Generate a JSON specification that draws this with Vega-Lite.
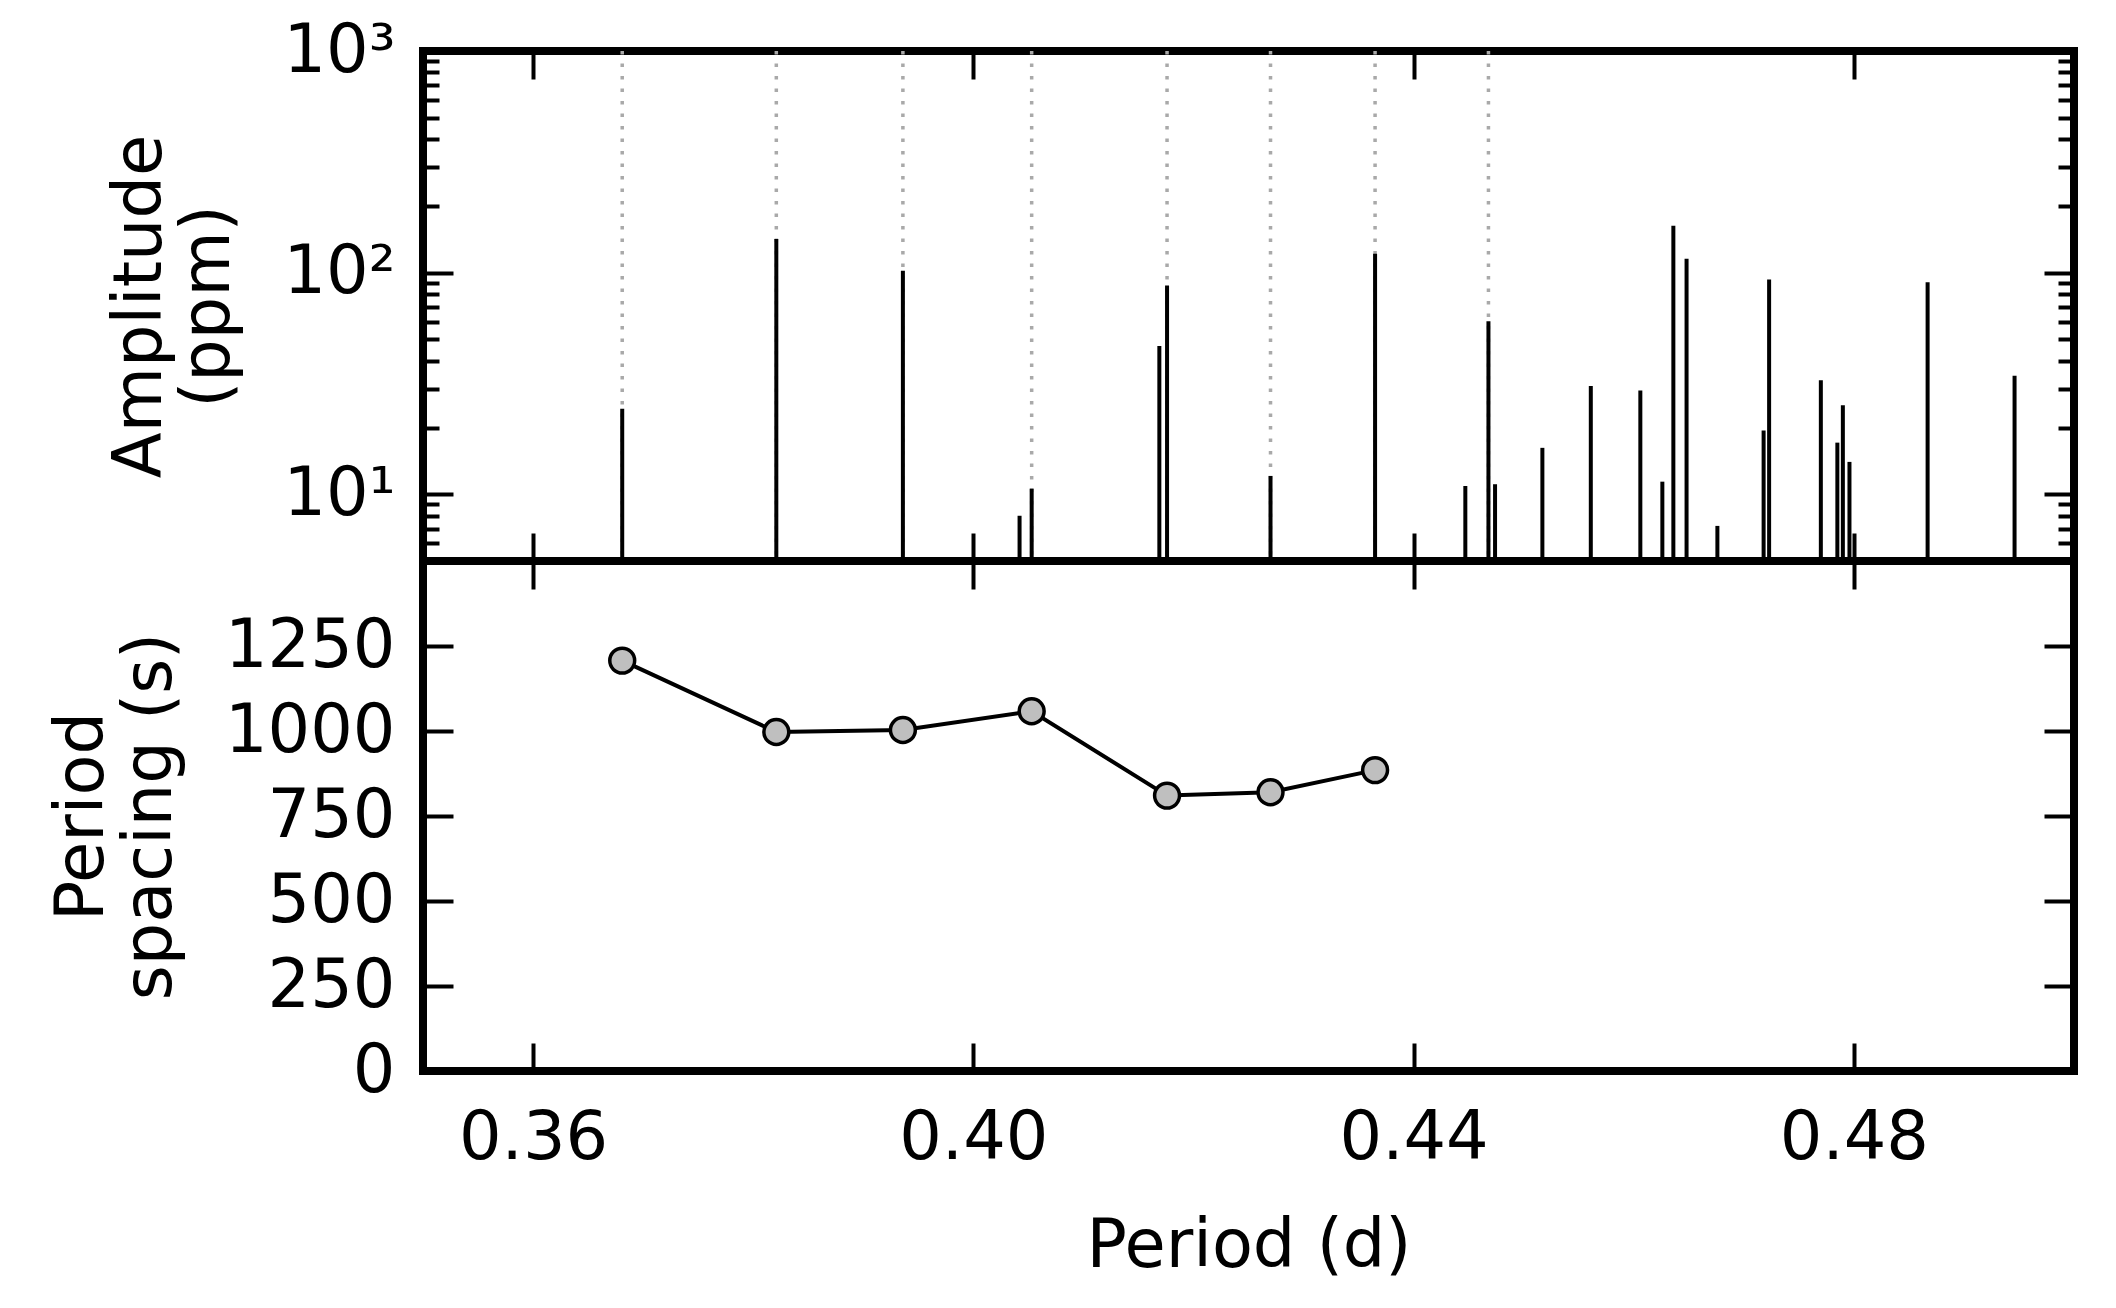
{
  "$schema": "https://vega.github.io/schema/vega-lite/v6.json",
  "background": "white",
  "padding": {"left": 44, "top": 13, "right": 30, "bottom": 20},
  "spacing": 0,
  "bounds": "flush",
  "datasets": {
    "spikes": [
      {"period": 0.3681, "amp": 24.3},
      {"period": 0.3821, "amp": 142},
      {"period": 0.3936, "amp": 102},
      {"period": 0.4042, "amp": 8.0},
      {"period": 0.4053, "amp": 10.6},
      {"period": 0.4169, "amp": 46.7},
      {"period": 0.4176, "amp": 87.5},
      {"period": 0.4270, "amp": 12.1},
      {"period": 0.4365, "amp": 121.6},
      {"period": 0.4447, "amp": 10.9},
      {"period": 0.4468, "amp": 60.3},
      {"period": 0.4474, "amp": 11.1},
      {"period": 0.4517, "amp": 16.2},
      {"period": 0.4561, "amp": 30.8},
      {"period": 0.4606, "amp": 29.4},
      {"period": 0.4626, "amp": 11.4},
      {"period": 0.4636, "amp": 162.6},
      {"period": 0.4648, "amp": 115.6},
      {"period": 0.4676, "amp": 7.2},
      {"period": 0.4718, "amp": 19.4},
      {"period": 0.4723, "amp": 93.1},
      {"period": 0.4770, "amp": 32.7},
      {"period": 0.4785, "amp": 17.1},
      {"period": 0.4790, "amp": 25.2},
      {"period": 0.4796, "amp": 14.0},
      {"period": 0.4867, "amp": 90.4},
      {"period": 0.4946, "amp": 34.3}
    ],
    "modes": [
      {"period": 0.3681},
      {"period": 0.3821},
      {"period": 0.3936},
      {"period": 0.4053},
      {"period": 0.4176},
      {"period": 0.4270},
      {"period": 0.4365},
      {"period": 0.4468}
    ],
    "spacing": [
      {"period": 0.3681, "spacing": 1207},
      {"period": 0.3821, "spacing": 997},
      {"period": 0.3936, "spacing": 1003},
      {"period": 0.4053, "spacing": 1058},
      {"period": 0.4176, "spacing": 810},
      {"period": 0.4270, "spacing": 820},
      {"period": 0.4365, "spacing": 885}
    ]
  },
  "vconcat": [
    {
      "width": 1651,
      "height": 510,
      "layer": [
        {
          "data": {"name": "modes"},
          "mark": {"type": "rule", "color": "#a9a9a9", "strokeWidth": 3.5, "strokeDash": [3.5, 9]},
          "encoding": {
            "x": {"field": "period", "type": "quantitative", "scale": {"domain": [0.35, 0.5], "nice": false, "zero": false}, "axis": null}
          }
        },
        {
          "data": {"name": "spikes"},
          "mark": {"type": "rule", "color": "black", "strokeWidth": 4},
          "encoding": {
            "x": {
              "field": "period", "type": "quantitative",
              "scale": {"domain": [0.35, 0.5], "nice": false, "zero": false},
              "axis": {"orient": "bottom", "values": [0.36, 0.40, 0.44, 0.48], "labels": false, "title": null, "tickSize": -28}
            },
            "y": {
              "field": "amp", "type": "quantitative",
              "scale": {"type": "log", "domain": [5, 1000], "nice": false},
              "axis": {
                "orient": "left",
                "values": [5, 6, 7, 8, 9, 10, 20, 30, 40, 50, 60, 70, 80, 90, 100, 200, 300, 400, 500, 600, 700, 800, 900, 1000],
                "labelExpr": "datum.value == 1000 ? '10³' : datum.value == 100 ? '10²' : datum.value == 10 ? '10¹' : ''",
                "labelOverlap": false,
                "tickSize": {"condition": {"test": "datum.value == 10 || datum.value == 100 || datum.value == 1000", "value": -30}, "value": -16},
                "labelPadding": 58,
                "title": ["Amplitude", "(ppm)"],
                "titlePadding": 40
              }
            },
            "y2": {"datum": 5}
          }
        },
        {
          "data": {"name": "spikes"},
          "mark": {"type": "rule", "opacity": 0},
          "encoding": {
            "x": {
              "field": "period", "type": "quantitative",
              "scale": {"domain": [0.35, 0.5], "nice": false, "zero": false},
              "axis": {"orient": "top", "values": [0.36, 0.40, 0.44, 0.48], "labels": false, "title": null, "tickSize": -28}
            },
            "y": {
              "field": "amp", "type": "quantitative",
              "scale": {"type": "log", "domain": [5, 1000], "nice": false},
              "axis": {
                "orient": "right",
                "values": [5, 6, 7, 8, 9, 10, 20, 30, 40, 50, 60, 70, 80, 90, 100, 200, 300, 400, 500, 600, 700, 800, 900, 1000],
                "labels": false,
                "tickSize": {"condition": {"test": "datum.value == 10 || datum.value == 100 || datum.value == 1000", "value": -30}, "value": -16},
                "title": null
              }
            }
          }
        }
      ],
      "resolve": {"axis": {"x": "independent", "y": "independent"}}
    },
    {
      "width": 1651,
      "height": 510,
      "data": {"name": "spacing"},
      "layer": [
        {
          "mark": {"type": "line", "color": "black", "strokeWidth": 4},
          "encoding": {
            "x": {
              "field": "period", "type": "quantitative",
              "scale": {"domain": [0.35, 0.5], "nice": false, "zero": false},
              "axis": {"orient": "bottom", "values": [0.36, 0.40, 0.44, 0.48], "format": ".2f", "tickSize": -28, "labelPadding": 62, "title": "Period (d)", "titlePadding": 42}
            },
            "y": {
              "field": "spacing", "type": "quantitative",
              "scale": {"domain": [0, 1500], "nice": false, "zero": false},
              "axis": {"orient": "left", "values": [0, 250, 500, 750, 1000, 1250], "format": "d", "labelLimit": 0, "tickSize": -30, "labelPadding": 58, "title": ["Period", "spacing (s)"], "titlePadding": 40}
            }
          }
        },
        {
          "mark": {"type": "point", "shape": "circle", "filled": true, "fill": "#bfbfbf", "stroke": "black", "strokeWidth": 3.5, "size": 620, "opacity": 1},
          "encoding": {
            "x": {
              "field": "period", "type": "quantitative",
              "scale": {"domain": [0.35, 0.5], "nice": false, "zero": false},
              "axis": {"orient": "top", "values": [0.36, 0.40, 0.44, 0.48], "labels": false, "title": null, "tickSize": -28}
            },
            "y": {
              "field": "spacing", "type": "quantitative",
              "scale": {"domain": [0, 1500], "nice": false, "zero": false},
              "axis": {"orient": "right", "values": [0, 250, 500, 750, 1000, 1250], "labels": false, "title": null, "tickSize": -30}
            }
          }
        }
      ],
      "resolve": {"axis": {"x": "independent", "y": "independent"}}
    }
  ],
  "config": {
    "font": "DejaVu Sans",
    "axis": {
      "domain": false,
      "grid": false,
      "labelFont": "DejaVu Sans",
      "labelFontSize": 67,
      "labelColor": "black",
      "labelLimit": 0,
      "titleFont": "DejaVu Sans",
      "titleFontSize": 67,
      "titleFontWeight": "normal",
      "titleColor": "black",
      "titleLineHeight": 68,
      "tickColor": "black",
      "tickWidth": 4
    },
    "view": {"stroke": "black", "strokeWidth": 8}
  }
}
